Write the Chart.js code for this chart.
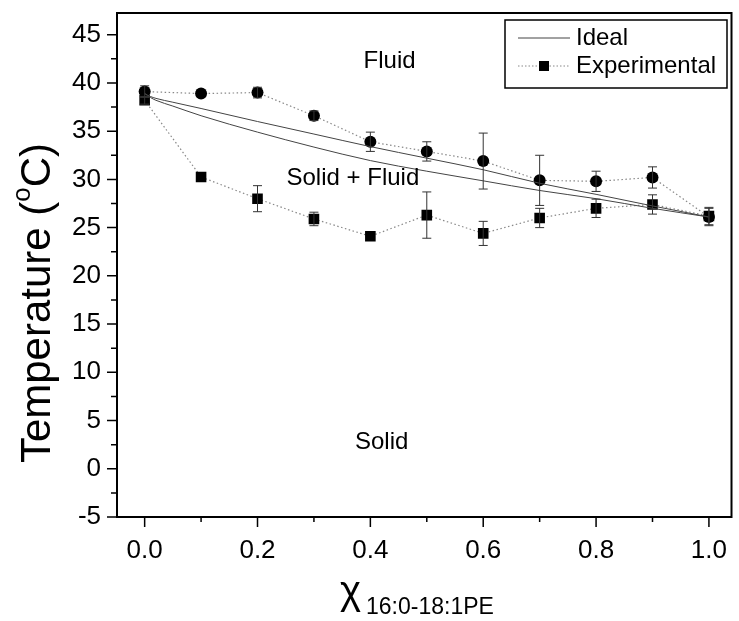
<!DOCTYPE html>
<html>
<head>
<meta charset="utf-8">
<script src="https://cdn.jsdelivr.net/npm/chart.js@4/dist/chart.umd.min.js"></script>
<style>
html,body{margin:0;padding:0;background:#fff;}
canvas{display:block;}
</style>
</head>
<body>
<canvas id="c" width="739" height="621"></canvas>
<script>
// ---- data ----
const xValues = [0.0, 0.1, 0.2, 0.3, 0.4, 0.5, 0.6, 0.7, 0.8, 0.9, 1.0];
const fluidT = [39.1, 38.9, 39.0, 36.6, 33.9, 32.9, 31.9, 29.9, 29.8, 30.2, 26.1];
const fluidErr = [0.6, 0.0, 0.55, 0.5, 1.0, 1.0, 2.9, 2.6, 1.05, 1.1, 0.9];
const solidT = [38.2, 30.25, 28.0, 25.9, 24.1, 26.3, 24.4, 26.0, 27.0, 27.4, 26.2];
const solidErr = [0.4, 0.0, 1.35, 0.7, 0.0, 2.4, 1.25, 1.0, 0.95, 1.0, 0.9];
const idealX = [0.0, 0.01, 0.02, 0.05, 0.1, 0.2, 0.3, 0.4, 0.5, 0.6, 0.7, 0.8, 0.9, 1.0];
const idealUpper = [38.9, 38.6, 38.4, 38.0, 37.35, 36.0, 34.7, 33.4, 32.2, 31.0, 29.6, 28.45, 27.25, 26.1];
const idealLower = [38.9, 38.5, 38.2, 37.6, 36.6, 34.9, 33.35, 31.95, 30.85, 29.85, 28.85, 28.0, 27.0, 26.1];
const yTickLabels = [-5, 0, 5, 10, 15, 20, 25, 30, 35, 40, 45];
const xTickLabels = ['0.0', '0.2', '0.4', '0.6', '0.8', '1.0'];
const annotations = [
  {text: 'Fluid', x: 0.434, y: 42.2},
  {text: 'Solid + Fluid', x: 0.369, y: 30.1},
  {text: 'Solid', x: 0.42, y: 2.7}
];

const FONT = '"Liberation Sans", Arial, Helvetica, sans-serif';

function pts(xs, ys) { return xs.map((x, i) => ({x: x, y: ys[i]})); }

const errorBars = {
  id: 'errorBars',
  afterDatasetsDraw(chart) {
    const ctx = chart.ctx, xs = chart.scales.x, ys = chart.scales.y;
    ctx.save();
    ctx.strokeStyle = '#333';
    ctx.lineWidth = 1;
    chart.data.datasets.forEach(ds => {
      if (!ds.errors) return;
      ds.data.forEach((p, i) => {
        const e = ds.errors[i];
        if (!e) return;
        const px = xs.getPixelForValue(p.x);
        const top = ys.getPixelForValue(p.y + e);
        const bot = ys.getPixelForValue(p.y - e);
        ctx.beginPath();
        ctx.moveTo(px, top); ctx.lineTo(px, bot);
        ctx.moveTo(px - 4.5, top); ctx.lineTo(px + 4.5, top);
        ctx.moveTo(px - 4.5, bot); ctx.lineTo(px + 4.5, bot);
        ctx.stroke();
      });
    });
    ctx.restore();
  }
};

const decor = {
  id: 'decor',
  afterDraw(chart) {
    const ctx = chart.ctx, xs = chart.scales.x, ys = chart.scales.y, a = chart.chartArea;
    ctx.save();
    // frame
    ctx.strokeStyle = '#000';
    ctx.lineWidth = 2;
    ctx.strokeRect(a.left, a.top, a.right - a.left, a.bottom - a.top);
    // ticks
    ctx.lineWidth = 1.5;
    ctx.beginPath();
    ys.ticks.forEach(t => {
      const py = ys.getPixelForValue(t.value);
      const major = Math.abs(t.value % 5) < 1e-6;
      ctx.moveTo(a.left, py); ctx.lineTo(a.left - (major ? 10 : 6), py);
    });
    xs.ticks.forEach(t => {
      const px = xs.getPixelForValue(t.value);
      const major = Math.round(t.value * 10) % 2 === 0;
      ctx.moveTo(px, a.bottom); ctx.lineTo(px, a.bottom + (major ? 10 : 5));
    });
    ctx.stroke();
    // annotations
    ctx.fillStyle = '#000';
    ctx.font = '24px ' + FONT;
    ctx.textAlign = 'center';
    ctx.textBaseline = 'middle';
    annotations.forEach(an => {
      ctx.fillText(an.text, xs.getPixelForValue(an.x), ys.getPixelForValue(an.y));
    });
    // y title
    ctx.save();
    ctx.translate(38, 303);
    ctx.rotate(-Math.PI / 2);
    ctx.textBaseline = 'middle';
    ctx.textAlign = 'left';
    const p1 = 'Temperature (', p2 = 'o', p3 = 'C)';
    ctx.font = '42px ' + FONT; const w1 = ctx.measureText(p1).width;
    ctx.font = '26px ' + FONT; const w2 = ctx.measureText(p2).width;
    ctx.font = '42px ' + FONT; const w3 = ctx.measureText(p3).width;
    let sx = -(w1 + w2 + w3) / 2;
    ctx.font = '42px ' + FONT; ctx.fillText(p1, sx, 0); sx += w1;
    ctx.font = '26px ' + FONT; ctx.fillText(p2, sx, -15); sx += w2;
    ctx.font = '42px ' + FONT; ctx.fillText(p3, sx, 0);
    ctx.restore();
    // x title
    ctx.textAlign = 'left';
    ctx.textBaseline = 'alphabetic';
    ctx.font = '40px ' + FONT;
    ctx.fillText('\u03C7', 340, 604);
    ctx.font = '23px ' + FONT;
    ctx.fillText('16:0-18:1PE', 366, 614);
    // legend
    const lx = 505, ly = 20, lw = 222, lh = 68;
    ctx.fillStyle = '#fff';
    ctx.fillRect(lx, ly, lw, lh);
    ctx.strokeStyle = '#000';
    ctx.lineWidth = 1.5;
    ctx.strokeRect(lx, ly, lw, lh);
    ctx.strokeStyle = '#444';
    ctx.lineWidth = 1;
    ctx.beginPath(); ctx.moveTo(518, 38); ctx.lineTo(570, 38); ctx.stroke();
    ctx.strokeStyle = '#888';
    ctx.setLineDash([1.5, 2]);
    ctx.beginPath(); ctx.moveTo(518, 66); ctx.lineTo(570, 66); ctx.stroke();
    ctx.setLineDash([]);
    ctx.fillStyle = '#000';
    ctx.fillRect(539, 61, 10, 10);
    ctx.font = '24px ' + FONT;
    ctx.textBaseline = 'middle';
    ctx.fillText('Ideal', 576, 38);
    ctx.fillText('Experimental', 576, 66);
    ctx.restore();
  }
};

new Chart(document.getElementById('c'), {
  type: 'scatter',
  data: {
    datasets: [
      {label: 'Ideal', data: pts(idealX, idealUpper), showLine: true, borderColor: '#444', borderWidth: 1, pointRadius: 0, cubicInterpolationMode: 'monotone'},
      {label: 'Ideal2', data: pts(idealX, idealLower), showLine: true, borderColor: '#444', borderWidth: 1, pointRadius: 0, cubicInterpolationMode: 'monotone'},
      {label: 'Experimental', data: pts(xValues, fluidT), errors: fluidErr, showLine: true, borderColor: '#888', borderWidth: 1.2, borderDash: [1.5, 2.5], pointStyle: 'circle', pointRadius: 6, pointBackgroundColor: '#000', pointBorderColor: '#000', pointBorderWidth: 0},
      {label: 'Experimental2', data: pts(xValues, solidT), errors: solidErr, showLine: true, borderColor: '#888', borderWidth: 1.2, borderDash: [1.5, 2.5], pointStyle: 'rect', pointRadius: 7.5, pointBackgroundColor: '#000', pointBorderColor: '#000', pointBorderWidth: 0}
    ]
  },
  options: {
    responsive: false,
    animation: false,
    layout: {padding: {top: 13, right: 2, left: 0, bottom: 0}},
    plugins: {legend: {display: false}, tooltip: {enabled: false}},
    scales: {
      x: {
        type: 'linear', min: -0.049, max: 1.04,
        grid: {display: false, drawTicks: false},
        border: {display: false},
        afterFit(s) { s.height = 104; s.paddingLeft = 0; s.paddingRight = 0; },
        ticks: {
          stepSize: 0.1, autoSkip: false, maxRotation: 0, includeBounds: false, padding: 18,
          color: '#000', font: {family: FONT, size: 26},
          callback(v) { const k = Math.round(v * 10); return (k % 2 === 0 && k >= 0 && k <= 10) ? xTickLabels[k / 2] : ''; }
        }
      },
      y: {
        type: 'linear', min: -5, max: 47.25,
        grid: {display: false, drawTicks: false},
        border: {display: false},
        afterFit(s) { s.width = 117; s.paddingTop = 0; s.paddingBottom = 0; },
        ticks: {
          stepSize: 2.5, autoSkip: false, includeBounds: false, padding: 16,
          color: '#000', font: {family: FONT, size: 26},
          callback(v) { return yTickLabels.includes(v) ? String(v) : ''; }
        }
      }
    }
  },
  plugins: [errorBars, decor]
});
</script>
</body>
</html>
